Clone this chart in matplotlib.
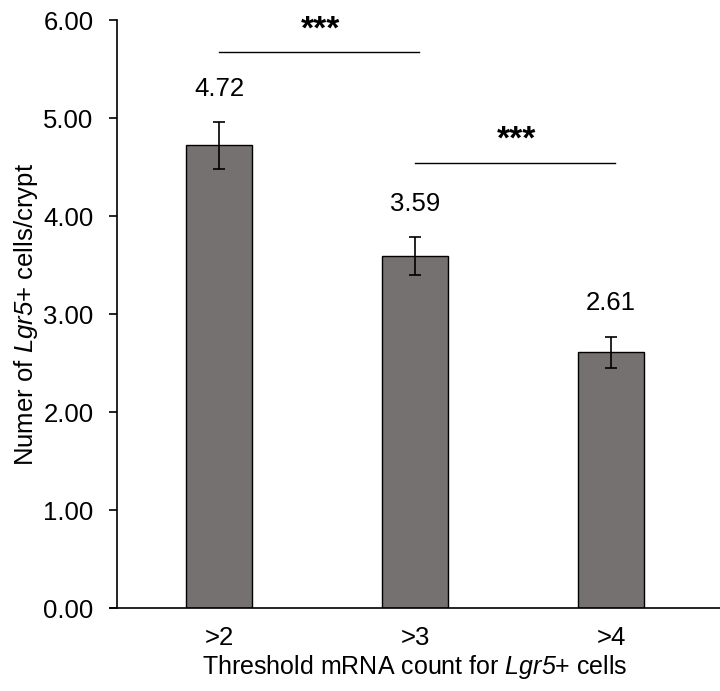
import numpy as np
import matplotlib.pyplot as plt

plt.rcParams['font.family'] = ['Liberation Sans', 'DejaVu Sans']
plt.rcParams['mathtext.fontset'] = 'custom'
plt.rcParams['mathtext.rm'] = 'Liberation Sans'
plt.rcParams['mathtext.sf'] = 'Liberation Sans:italic'

# data
categories = ['>2', '>3', '>4']
means = [4.72, 3.59, 2.61]
errors = [0.24, 0.195, 0.16]
# significance brackets: (from bar, to bar, height, text)
brackets = [(0, 1, 5.67, '***'), (1, 2, 4.54, '***')]

fig = plt.figure(figsize=(7.2, 6.91), dpi=100)
ax = fig.add_axes([110 / 720, 1 - 608 / 691, 610 / 720, 588 / 691])

x = np.arange(len(categories))
ax.bar(x, means, width=0.335, color='#767171', edgecolor='black', linewidth=1.0, zorder=2)
ax.errorbar(x, means, yerr=errors, fmt='none', ecolor='black', elinewidth=1.2,
            capsize=4, capthick=1.2, zorder=3)

for xi, m, e in zip(x, means, errors):
    ax.text(xi, m + e + 0.34, f'{m:.2f}', ha='center', va='center', fontsize=18.5)

for i, j, h, s in brackets:
    ax.plot([x[i], x[j] + 0.02], [h, h], color='black', linewidth=1.0, clip_on=False)
    ax.text((x[i] + x[j]) / 2 + 0.02, h + 0.23, s, ha='center', va='center',
            fontsize=24, fontweight='bold')

ax.set_xlim(-0.556, 2.556)
ax.set_ylim(0, 6)
ax.set_yticks(np.arange(0, 6.01, 1))
ax.set_yticklabels([f'{v:.2f}' for v in np.arange(0, 6.01, 1)])
ax.set_xticks(x)
ax.set_xticklabels(categories)

ax.spines['top'].set_visible(False)
ax.spines['right'].set_visible(False)
ax.spines['left'].set_position(('axes', 7 / 610))
ax.spines['left'].set_linewidth(1.2)
ax.spines['bottom'].set_linewidth(1.2)

ax.tick_params(axis='y', length=6, width=1.2, pad=11, labelsize=18.5)
ax.tick_params(axis='x', length=0, pad=13, labelsize=18.5)

ax.set_xlabel(r'Threshold mRNA count for $\mathsf{Lgr5}$+ cells', fontsize=18, labelpad=2)
ax.set_ylabel(r'Numer of $\mathsf{Lgr5}$+ cells/crypt', fontsize=18.5, labelpad=2)

fig.savefig('out.png', dpi=100)
